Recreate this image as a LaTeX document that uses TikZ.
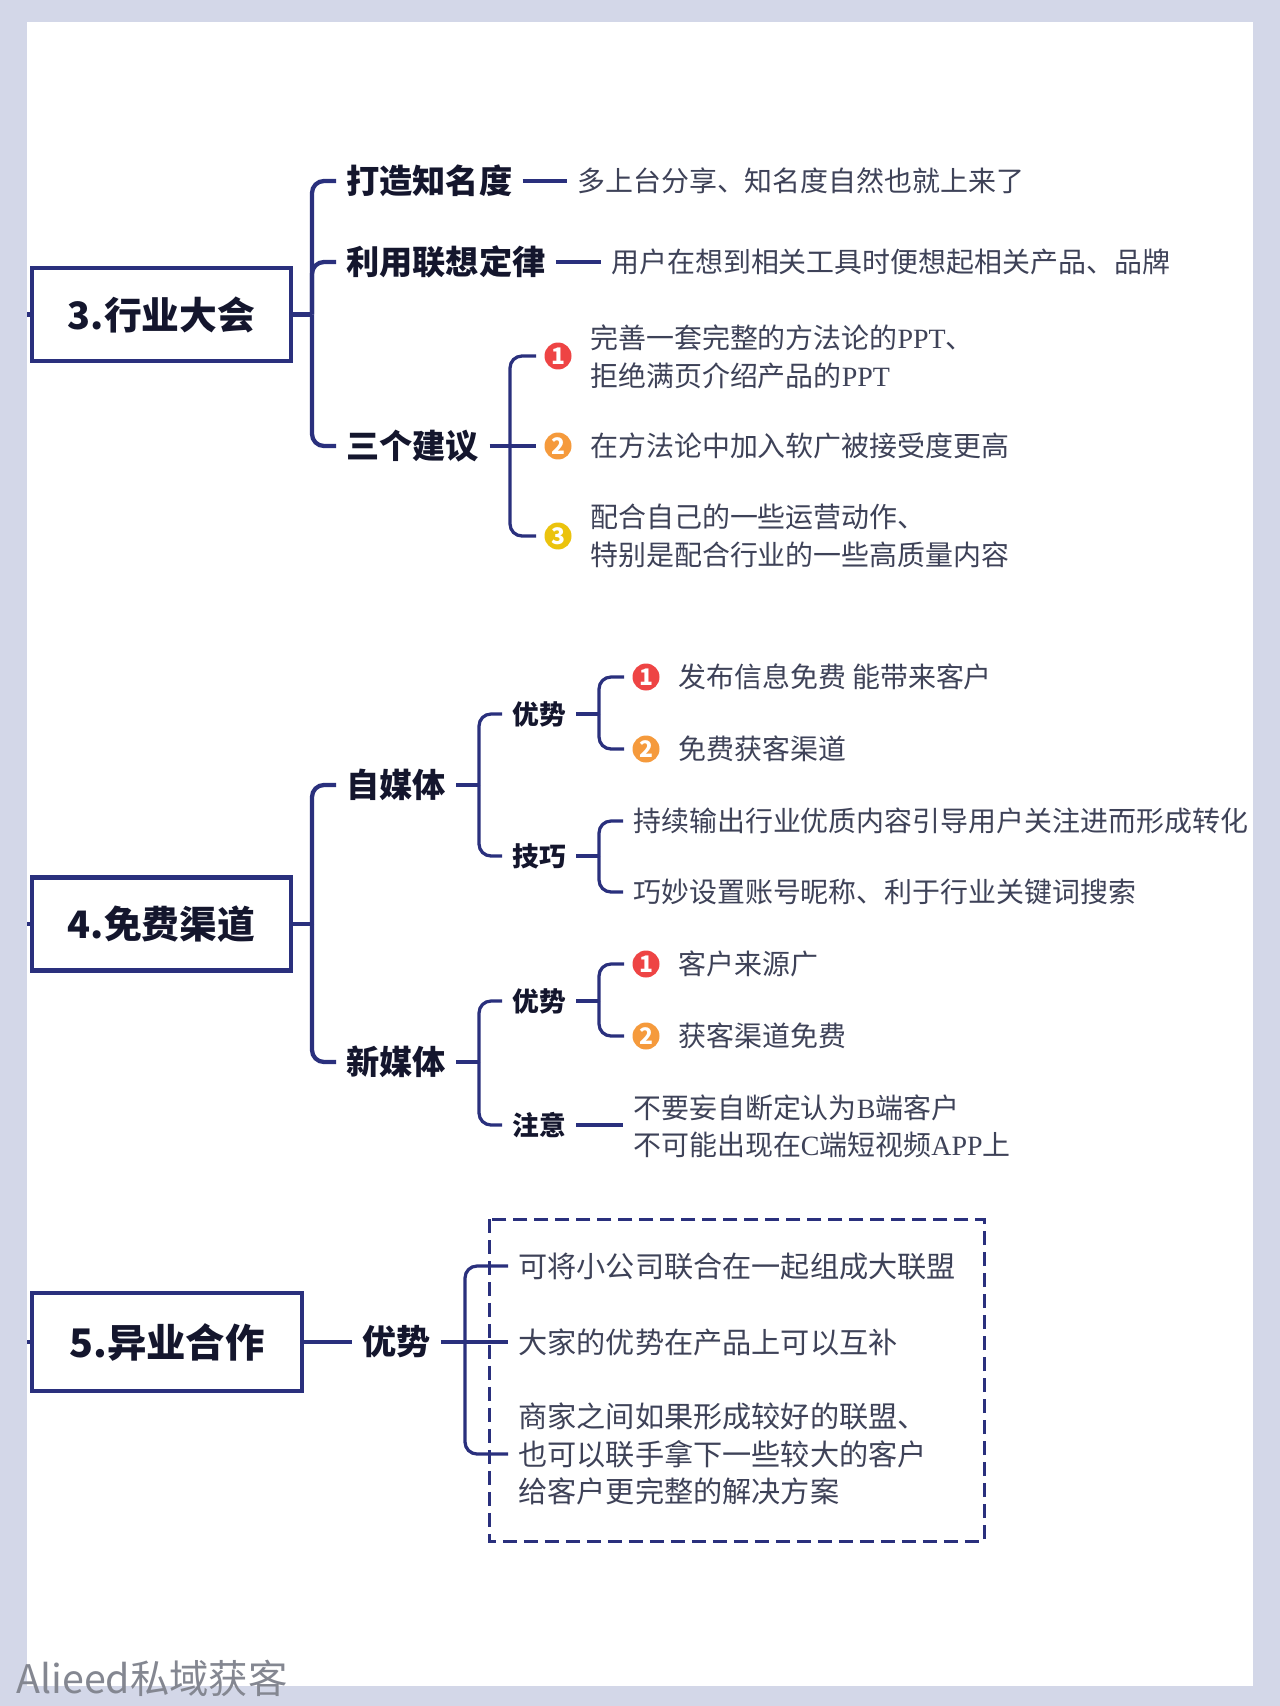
\documentclass[tikz,border=0pt]{standalone}
\usepackage{fontspec}
\setmainfont{Noto Sans CJK SC}
\newfontfamily\latinserif{Liberation Serif}
\newcommand{\lat}[1]{{\latinserif #1}}
\definecolor{r211g215b232}{RGB}{211,215,232}
\definecolor{r42g48b125}{RGB}{42,48,125}
\definecolor{r20g22b45}{RGB}{20,22,45}
\definecolor{r62g66b88}{RGB}{62,66,88}
\definecolor{r238g68b68}{RGB}{238,68,68}
\definecolor{r245g154b60}{RGB}{245,154,60}
\definecolor{r235g195b14}{RGB}{235,195,14}
\definecolor{r132g135b145}{RGB}{132,135,145}
\tikzset{
  box/.style={draw=r42g48b125, line width=0.085cm, text=r20g22b45, inner sep=0pt,
    font=\fontsize{21.5}{26}\selectfont\bfseries},
  titlenode/.style={anchor=west, text=r20g22b45, inner xsep=0.2cm, inner ysep=0pt,
    font=\fontsize{18.9}{24}\selectfont\bfseries},
  subnode/.style={anchor=west, text=r20g22b45, inner xsep=0.2cm, inner ysep=0pt,
    font=\fontsize{15.2}{20}\selectfont\bfseries},
  bodynode/.style={anchor=west, text=r62g66b88, inner xsep=0.2cm, inner ysep=0pt, align=left,
    font=\fontsize{15.9}{21.3}\selectfont},
  widebody/.style={bodynode, font=\fontsize{16.6}{21.3}\selectfont},
  bullet/.style={circle, inner sep=0pt, minimum size=0.54cm, outer sep=0.17cm, text=white,
    font=\fontsize{13}{13}\selectfont\bfseries},
  trunk/.style={draw=r42g48b125, line width=0.085cm, rounded corners=0.24cm},
  branch/.style={draw=r42g48b125, line width=0.065cm, rounded corners=0.24cm},
}
\begin{document}
\begin{tikzpicture}[x=0.02cm, y=-0.02cm]
% Page and white sheet
\useasboundingbox (0,0) rectangle (1280,1706);
\fill [r211g215b232] (0,0) rectangle (1280,1706);
\fill [white] (27,22) rectangle (1253,1686);

% Drawing section 3
\node [box, minimum width=5.18cm, minimum height=1.86cm] (box3) at (161.5,314.5) {3.行业大会};
\coordinate (stub3) at (27,314.5);
\coordinate (spine3) at (312,314.5);
\draw [trunk] (box3.west) -- (stub3);
\draw [trunk] (box3.east) -- (spine3);
\node [titlenode] (fame) at (336,181) {打造知名度};
\node [bodynode] (fametext) at (567,181) {多上台分享、知名度自然也就上来了};
\node [titlenode] (assoc) at (336,262) {利用联想定律};
\node [bodynode] (assoctext) at (601,262) {用户在想到相关工具时便想起相关产品、品牌};
\node [titlenode] (advice) at (336,446) {三个建议};
\draw [trunk] (spine3) |- (fame.west);
\draw [trunk] (spine3) |- (assoc.west);
\draw [trunk] (spine3) |- (advice.west);
\draw [branch] (fame.east) -- (fametext.west);
\draw [branch] (assoc.east) -- (assoctext.west);

% Three numbered items
\coordinate (spineadvice) at (510,446);
\node [bullet, fill=r238g68b68] (adviceA) at (558,356) {1};
\node [bullet, fill=r245g154b60] (adviceB) at (558,446) {2};
\node [bullet, fill=r235g195b14] (adviceC) at (558,536) {3};
\node [bodynode] at (580,357) {完善一套完整的方法论的\lat{PPT}、\\拒绝满页介绍产品的\lat{PPT}};
\node [bodynode] at (580,446) {在方法论中加入软广被接受度更高};
\node [bodynode] at (580,536) {配合自己的一些运营动作、\\特别是配合行业的一些高质量内容};
\draw [branch] (spineadvice) |- (adviceA.west);
\draw [branch] (advice.east) -- (adviceB.west);
\draw [branch] (spineadvice) |- (adviceC.west);

% Drawing section 4
\node [box, minimum width=5.18cm, minimum height=1.86cm] (box4) at (161.5,924) {4.免费渠道};
\coordinate (stub4) at (27,924);
\coordinate (spine4) at (312,924);
\draw [trunk] (box4.west) -- (stub4);
\draw [trunk] (box4.east) -- (spine4);
\node [titlenode] (self) at (336,785) {自媒体};
\node [titlenode] (newm) at (336,1062) {新媒体};
\draw [trunk] (spine4) |- (self.west);
\draw [trunk] (spine4) |- (newm.west);

% Self media branch
\coordinate (spineself) at (479,785);
\node [subnode] (selfgood) at (502,714) {优势};
\node [subnode] (selftip) at (502,856) {技巧};
\draw [branch] (self.east) -- (spineself);
\draw [branch] (spineself) |- (selfgood.west);
\draw [branch] (spineself) |- (selftip.west);
\coordinate (spinegood) at (599,714);
\node [bullet, fill=r238g68b68] (goodA) at (646,677) {1};
\node [bullet, fill=r245g154b60] (goodB) at (646,749) {2};
\node [bodynode] at (668,677) {发布信息免费 能带来客户};
\node [bodynode] at (668,749) {免费获客渠道};
\draw [branch] (selfgood.east) -- (spinegood);
\draw [branch] (spinegood) |- (goodA.west);
\draw [branch] (spinegood) |- (goodB.west);
\coordinate (spinetip) at (599,856);
\node [bodynode] (tipA) at (623,821) {持续输出行业优质内容引导用户关注进而形成转化};
\node [bodynode] (tipB) at (623,892) {巧妙设置账号昵称、利于行业关键词搜索};
\draw [branch] (selftip.east) -- (spinetip);
\draw [branch] (spinetip) |- (tipA.west);
\draw [branch] (spinetip) |- (tipB.west);

% New media branch
\coordinate (spinenew) at (479,1062);
\node [subnode] (newgood) at (502,1001) {优势};
\node [subnode] (newnote) at (502,1125) {注意};
\draw [branch] (newm.east) -- (spinenew);
\draw [branch] (spinenew) |- (newgood.west);
\draw [branch] (spinenew) |- (newnote.west);
\coordinate (spinenewgood) at (599,1001);
\node [bullet, fill=r238g68b68] (newA) at (646,964) {1};
\node [bullet, fill=r245g154b60] (newB) at (646,1036) {2};
\node [bodynode] at (668,964) {客户来源广};
\node [bodynode] at (668,1036) {获客渠道免费};
\draw [branch] (newgood.east) -- (spinenewgood);
\draw [branch] (spinenewgood) |- (newA.west);
\draw [branch] (spinenewgood) |- (newB.west);
\node [bodynode] (notetext) at (623,1126) {不要妄自断定认为\lat{B}端客户\\不可能出现在\lat{C}端短视频\lat{APP}上};
\draw [branch] (newnote.east) -- (newnote.east -| notetext.west);

% Drawing section 5
\node [box, minimum width=5.4cm, minimum height=1.96cm, font=\fontsize{22.4}{26}\selectfont\bfseries] (box5) at (167,1342) {5.异业合作};
\coordinate (stub5) at (27,1342);
\draw [trunk] (box5.west) -- (stub5);
\node [titlenode, font=\fontsize{19.4}{24}\selectfont\bfseries] (merit) at (352,1342) {优势};
\draw [trunk] (box5.east) -- (merit.west);
\draw [draw=r42g48b125, line width=0.06cm, dash pattern=on 0.28cm off 0.14cm] (489,1219) rectangle (984,1541);
\coordinate (spinemerit) at (465,1342);
\node [widebody] (meritA) at (508,1266) {可将小公司联合在一起组成大联盟};
\node [widebody] (meritB) at (508,1342) {大家的优势在产品上可以互补};
\node [widebody] (meritC) at (508,1454) {商家之间如果形成较好的联盟、\\也可以联手拿下一些较大的客户\\给客户更完整的解决方案};
\draw [branch] (spinemerit) |- (meritA.west);
\draw [branch] (merit.east) -- (meritB.west);
\draw [branch] (spinemerit) |- (meritC.west);

% Watermark
\node [anchor=west, inner sep=0pt, text=r132g135b145, font=\fontsize{22.4}{26}\selectfont] (mark) at (16,1678) {Alieed私域获客};
\end{tikzpicture}
\end{document}
